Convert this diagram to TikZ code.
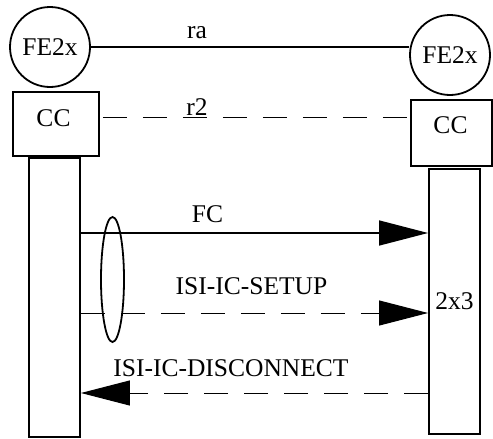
\documentclass[tikz,border=0pt]{standalone}
\usepackage{fontspec}
\setmainfont{Liberation Serif}
\usetikzlibrary{arrows.meta,calc,positioning,shapes.geometric}

\begin{document}
\begin{tikzpicture}[x=1pt,y=-1pt,
    font=\fontsize{25.5}{30}\selectfont,
    fe/.style={circle,draw,line width=1.8pt,minimum size=80pt,inner sep=0pt},
    ccbox/.style={rectangle,draw,line width=1.9pt,inner sep=0pt},
    lifebar/.style={rectangle,draw,line width=1.9pt,minimum width=51pt,inner sep=0pt},
    msg/.style={line width=1.5pt,-{Triangle[length=49pt,width=25pt]}},
    dmsg/.style={line width=1pt,dash pattern=on 24pt off 16pt,-{Triangle[length=49pt,width=25pt]}},
    lbl/.style={inner sep=0pt}]
    \useasboundingbox (0,0) rectangle (493,439);
    % functional entities and call control
    \node[fe] (feL) at (50,47) {FE2x};
    \node[fe] (feR) at (450,55) {FE2x};
    \node[ccbox,minimum width=86pt,minimum height=64pt] (ccL) at (56,124) {};
    \node[ccbox,minimum width=81pt,minimum height=66pt] (ccR) at (451.5,133) {};
    \node[lbl] (ccLt) at (53.5,118) {CC};
    \node[lbl] (ccRt) at (450.5,125) {CC};
    \node[lifebar,minimum height=279pt] (barL) at (54.5,297.5) {};
    \node[lifebar,minimum height=265pt] (barR) at (454.5,301.5) {2x3};
    % relations
    \draw[line width=1.8pt] (feL.east) -- (feL.east -| feR.west);
    \node[lbl] (ra) at (197,33) {ra};
    \coordinate (r2a) at ($(ccL.east)+(3,-7)$);
    \draw[line width=1pt,dash pattern=on 24pt off 16pt]
      (r2a) -- (r2a -| ccR.west);
    \node[lbl] (r2) at (197,107) {r2};
    % messages
    \coordinate (yFC) at (0,233);
    \coordinate (ySU) at (0,313);
    \coordinate (yDC) at (0,393);
    \draw[msg] (barL.east |- yFC) -- (barR.west |- yFC);
    \draw[dmsg,dash phase=-40pt] (barL.east |- ySU) -- (barR.west |- ySU);
    \draw[dmsg] (barR.west |- yDC) -- (barL.east |- yDC);
    \node[lbl] (fc) at (207.5,214) {FC};
    \node[lbl] (setup) at (251.5,286) {ISI-IC-SETUP};
    \node[lbl] (disc) at (231,368) {ISI-IC-DISCONNECT};
    \node[ellipse,draw,line width=1.8pt,minimum width=23pt,minimum height=125pt,inner sep=0pt] (grp) at (112.5,279.5) {};
\end{tikzpicture}
\end{document}
